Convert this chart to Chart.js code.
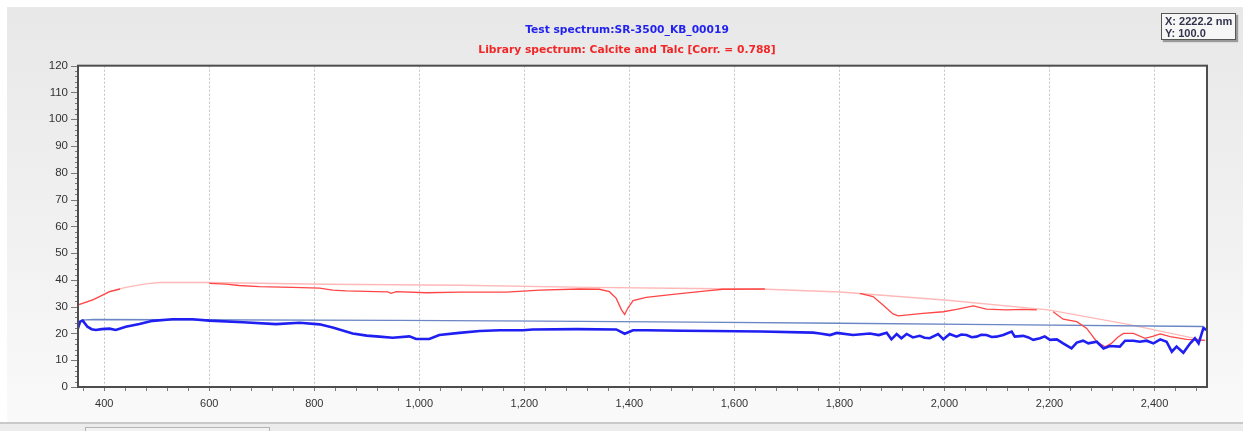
<!DOCTYPE html>
<html>
<head>
<meta charset="utf-8">
<script src="https://cdn.jsdelivr.net/npm/chart.js@4.4.0/dist/chart.umd.min.js"></script>
<style>
  html, body { margin: 0; padding: 0; background: #ffffff; }
  #panel {
    position: absolute; left: 7px; top: 7px; width: 1236px; height: 416px;
    background: linear-gradient(#e8e8e8, #f1f1f1 55%, #fafafa);
  }
  #wrap { position: absolute; left: 0; top: 0; width: 1243px; height: 431px; }
  #bottomBar {
    position: absolute; left: 0; top: 422px; width: 1243px; height: 9px;
    background: #ececec; border-top: 2px solid #c9c9c9;
  }
  #tab {
    position: absolute; left: 85px; top: 427px; width: 183px; height: 6px;
    background: #f2f2f2; border: 1px solid #b4b4b4;
  }
  #xyBox {
    position: absolute; left: 1161px; top: 13px; width: 75px; height: 27px;
    background: #f6f6f6; border: 1px solid #555;
    box-shadow: 2px 2px 1px #9a9a9a; white-space: nowrap;
    font: bold 11px "Liberation Sans", sans-serif; color: #33334d;
    line-height: 12px; padding: 1px 0 0 3px; box-sizing: border-box;
  }
</style>
</head>
<body>
<div id="panel"></div>
<div id="wrap"><canvas id="spectrumChart" width="1243" height="431"></canvas></div>
<div id="bottomBar"></div>
<div id="tab"></div>
<div id="xyBox">X: 2222.2 nm<br>Y: 100.0</div>
<script>
// tick labels
const xTicks = [400, 600, 800, 1000, 1200, 1400, 1600, 1800, 2000, 2200, 2400];
const yTicks = [0, 10, 20, 30, 40, 50, 60, 70, 80, 90, 100, 110, 120];

// test spectrum (blue, thick)
const testNm = [349, 354, 359, 368, 376, 384, 395, 410, 422, 441, 467, 492, 530, 568, 600, 664, 727, 772, 810, 835, 873, 900, 924, 949, 981, 994, 1019, 1038, 1076, 1115, 1153, 1197, 1216, 1300, 1375, 1391, 1407, 1432, 1500, 1559, 1650, 1750, 1763, 1782, 1795, 1826, 1858, 1875, 1890, 1899, 1909, 1918, 1928, 1940, 1953, 1962, 1972, 1988, 1998, 2010, 2023, 2032, 2042, 2052, 2061, 2070, 2080, 2090, 2099, 2112, 2128, 2134, 2150, 2160, 2169, 2182, 2191, 2201, 2214, 2226, 2242, 2252, 2264, 2274, 2290, 2303, 2315, 2334, 2344, 2360, 2372, 2385, 2398, 2411, 2423, 2433, 2442, 2455, 2468, 2477, 2484, 2493, 2499];
const testVal = [21.3, 24.4, 24.8, 22.5, 21.6, 21.3, 21.6, 21.8, 21.3, 22.5, 23.5, 24.7, 25.3, 25.3, 24.8, 24.2, 23.5, 24.0, 23.4, 22.2, 20.0, 19.2, 18.8, 18.4, 18.9, 17.9, 17.9, 19.4, 20.2, 20.9, 21.2, 21.2, 21.5, 21.6, 21.5, 19.9, 21.2, 21.2, 21.0, 20.9, 20.7, 20.3, 20.0, 19.4, 20.2, 19.4, 20.0, 19.4, 20.3, 17.8, 19.8, 18.2, 19.8, 18.5, 19.1, 18.4, 18.2, 19.8, 17.8, 19.8, 18.8, 19.6, 19.4, 18.6, 18.8, 19.5, 19.4, 18.7, 18.8, 19.4, 20.7, 18.8, 19.1, 18.5, 17.6, 18.2, 18.9, 17.6, 17.8, 16.3, 14.4, 16.6, 17.3, 16.3, 16.9, 14.4, 15.3, 15.1, 17.3, 17.3, 16.9, 17.3, 16.3, 17.8, 16.9, 13.2, 15.1, 12.8, 16.3, 18.2, 16.3, 21.9, 21.3];

// test spectrum hull (thin steel blue)
const testHullNm = [356, 380, 960, 1235, 1520, 1800, 2100, 2493, 2499];
const testHullVal = [25.0, 25.2, 24.9, 24.6, 24.2, 23.8, 23.3, 22.6, 21.5];

// library spectrum hull (light pink)
const libHullNm = [349, 378, 410, 441, 479, 505, 600, 822, 1077, 1324, 1483, 1661, 1801, 2000, 2198, 2350, 2497];
const libHullVal = [30.6, 32.5, 35.6, 37.2, 38.5, 39.0, 39.0, 38.4, 38.0, 37.2, 36.9, 36.5, 35.5, 32.5, 28.8, 23.4, 17.3];

// library spectrum (red), null = gap where it lies on the hull
const libNm = [349, 378, 410, 430, 500,
  600, 632, 657, 695, 759, 810, 835, 861, 918, 940, 946, 956, 1013, 1077, 1166, 1229, 1305, 1343, 1362, 1375, 1385, 1391, 1397, 1407, 1432, 1483, 1547, 1578, 1658, 1700,
  1839, 1864, 1883, 1902, 1912, 1959, 1998, 2023, 2055, 2080, 2118, 2150, 2176, 2190,
  2207, 2226, 2252, 2271, 2290, 2306, 2318, 2330, 2341, 2360, 2382, 2398, 2411, 2430, 2461, 2496];
const libVal = [30.6, 32.5, 35.6, 36.6, null,
  38.7, 38.4, 37.9, 37.5, 37.2, 36.9, 36.2, 35.9, 35.6, 35.5, 35.0, 35.6, 35.2, 35.4, 35.4, 36.2, 36.6, 36.5, 35.6, 33.1, 28.8, 27.1, 29.4, 32.3, 33.5, 34.6, 35.9, 36.5, 36.6, null,
  35.0, 33.8, 30.6, 27.3, 26.6, 27.5, 28.1, 29.0, 30.3, 29.1, 28.8, 29.0, 28.8, null,
  28.1, 25.3, 24.4, 21.9, 16.9, 15.0, 16.3, 18.6, 20.0, 20.0, 18.2, 19.0, 19.8, 18.8, 17.8, 17.4];

const toPoints = (xs, ys) => xs.map((x, i) => ({ x: x, y: ys[i] }));

// white plot area, dark frame and minor ticks
const frame = {
  id: "frame",
  beforeDraw(chart) {
    const { ctx, chartArea: a } = chart;
    ctx.save();
    ctx.fillStyle = "#ffffff";
    ctx.fillRect(a.left, a.top, a.right - a.left, a.bottom - a.top);
    ctx.restore();
  },
  afterDraw(chart) {
    const { ctx, chartArea: a, scales } = chart;
    ctx.save();
    ctx.strokeStyle = "#7a7a7a";
    ctx.lineWidth = 1;
    ctx.beginPath();
    for (let v = 360; v <= 2500; v += 40) {
      const px = Math.round(scales.x.getPixelForValue(v)) + 0.5;
      ctx.moveTo(px, a.bottom);
      ctx.lineTo(px, a.bottom + 4);
    }
    for (let v = 0; v <= 120; v += 2) {
      const py = Math.round(scales.y.getPixelForValue(v)) + 0.5;
      const len = v % 10 === 0 ? 7 : 3;
      ctx.moveTo(a.left, py);
      ctx.lineTo(a.left - len, py);
    }
    ctx.stroke();
    ctx.strokeStyle = "#4d4d4d";
    ctx.lineWidth = 2;
    ctx.strokeRect(a.left, a.top, a.right - a.left, a.bottom - a.top);
    ctx.restore();
  },
};

new Chart(document.getElementById("spectrumChart"), {
  type: "line",
  data: {
    datasets: [
      {
        label: "Test spectrum",
        data: toPoints(testNm, testVal),
        borderColor: "#1f1ff2",
        borderWidth: 2.6,
        pointRadius: 0,
        order: 1,
      },
      {
        label: "Library spectrum",
        data: toPoints(libNm, libVal),
        borderColor: "#ff4545",
        borderWidth: 1.3,
        pointRadius: 0,
        spanGaps: false,
        order: 2,
      },
      {
        label: "Test hull",
        data: toPoints(testHullNm, testHullVal),
        borderColor: "#6a86c4",
        borderWidth: 1.3,
        pointRadius: 0,
        order: 3,
      },
      {
        label: "Library hull",
        data: toPoints(libHullNm, libHullVal),
        borderColor: "#ffb9b9",
        borderWidth: 1.4,
        pointRadius: 0,
        order: 4,
      },
    ],
  },
  options: {
    responsive: false,
    animation: false,
    events: [],
    layout: { padding: { left: 47, right: 36, top: 0, bottom: 14 } },
    plugins: {
      legend: { display: false },
      tooltip: { enabled: false },
      title: {
        display: true,
        text: "Test spectrum:SR-3500_KB_00019",
        color: "#2323ee",
        font: { family: "DejaVu Sans", size: 10.7, weight: "bold" },
        padding: { top: 24, bottom: 7 },
      },
      subtitle: {
        display: true,
        text: "Library spectrum: Calcite and Talc [Corr. = 0.788]",
        color: "#f22626",
        font: { family: "DejaVu Sans", size: 10.7, weight: "bold" },
        padding: { top: 0, bottom: 9 },
      },
    },
    scales: {
      x: {
        type: "linear",
        min: 350,
        max: 2500,
        afterBuildTicks: (scale) => {
          scale.ticks = xTicks.map((v) => ({ value: v }));
        },
        afterFit: (scale) => {
          scale.height = 30;
        },
        ticks: {
          color: "#333333",
          font: { family: "Liberation Sans", size: 11 },
          padding: 10,
          maxRotation: 0,
          callback: (v) => v.toLocaleString("en-US"),
        },
        grid: { color: "#c4c4c4", lineWidth: 1, drawTicks: false },
        border: { display: false, dash: [2, 2] },
      },
      y: {
        min: 0,
        max: 120,
        afterBuildTicks: (scale) => {
          scale.ticks = yTicks.map((v) => ({ value: v }));
        },
        afterFit: (scale) => {
          scale.width = 31;
        },
        ticks: {
          color: "#333333",
          font: { family: "Liberation Sans", size: 11.5 },
          padding: 10,
        },
        grid: { display: false, drawTicks: false },
        border: { display: false },
      },
    },
  },
  plugins: [frame],
});
</script>
</body>
</html>
